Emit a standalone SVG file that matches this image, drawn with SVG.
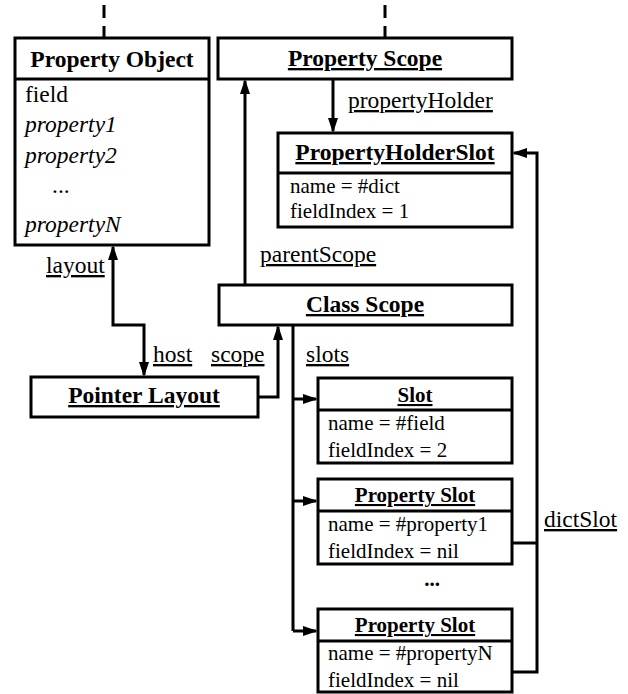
<svg xmlns="http://www.w3.org/2000/svg" width="628" height="694" viewBox="0 0 628 694">
<defs>
<style>
.box{fill:#fff;stroke:#000;stroke-width:3}
.div{stroke:#000;stroke-width:3}
.t{font-family:"Liberation Serif","Times New Roman",serif;font-size:23.5px;fill:#000}
.s{font-family:"Liberation Serif","Times New Roman",serif;font-size:21px;fill:#000}
.b{font-weight:bold}
.i{font-style:italic}
.u{text-decoration:underline}
.c{text-anchor:middle}
.ln{fill:none;stroke:#000;stroke-width:3}
.dash{fill:none;stroke:#000;stroke-width:3;stroke-dasharray:13 8}
</style>
<marker id="ah" markerUnits="userSpaceOnUse" markerWidth="16" markerHeight="11" refX="13" refY="5" orient="auto-start-reverse" viewBox="0 0 16 10">
<path d="M0,0 L15,5 L0,10 z" fill="#000"/>
</marker>
</defs>
<rect width="628" height="694" fill="#fff"/>
<g id="connectors">
<path class="dash" d="M104,5 V38"/>
<path class="dash" d="M385,5 V38"/>
<path class="ln" d="M333,79 V131" marker-end="url(#ah)"/>
<path class="ln" d="M245,285 V81" marker-end="url(#ah)"/>
<path class="ln" d="M113,247 V325 H144 V375" marker-start="url(#ah)" marker-end="url(#ah)"/>
<path class="ln" d="M258,397 H278 V327" marker-end="url(#ah)"/>
<path class="ln" d="M293,325 V631"/>
<path class="ln" d="M293,399 H316" marker-end="url(#ah)"/>
<path class="ln" d="M293,501 H316" marker-end="url(#ah)"/>
<path class="ln" d="M293,631 H316" marker-end="url(#ah)"/>
<path class="ln" d="M512,672 H537 V153 H514" marker-end="url(#ah)"/>
<path class="ln" d="M512,543 H537"/>
<text class="t u" x="348" y="108">propertyHolder</text>
<text class="t u" x="260" y="262">parentScope</text>
<text class="t u" x="46" y="273">layout</text>
<text class="t u" x="153" y="362">host</text>
<text class="t u" x="211" y="362">scope</text>
<text class="t u" x="306" y="362">slots</text>
<text class="t u" x="544" y="527">dictSlot</text>
</g>
<g id="property-object">
<rect class="box" x="15" y="38" width="194" height="207"/>
<line class="div" x1="15" y1="79" x2="209" y2="79"/>
<text class="t b c" x="112" y="67">Property Object</text>
<text class="t" x="25" y="102">field</text>
<text class="t i" x="25" y="132">property1</text>
<text class="t i" x="25" y="163">property2</text>
<text class="t" x="52" y="193">...</text>
<text class="t i" x="25" y="232">propertyN</text>
</g>
<g id="property-scope">
<rect class="box" x="218" y="38" width="294" height="41"/>
<text class="t b c u" x="365" y="66">Property Scope</text>
</g>
<g id="property-holder-slot">
<rect class="box" x="278" y="133" width="234" height="94"/>
<line class="div" x1="278" y1="173" x2="512" y2="173"/>
<text class="t b c u" x="395" y="160">PropertyHolderSlot</text>
<text class="s" x="290" y="193">name = #dict</text>
<text class="s" x="290" y="218">fieldIndex = 1</text>
</g>
<g id="class-scope">
<rect class="box" x="219" y="285" width="293" height="40"/>
<text class="t b c u" x="365" y="312">Class Scope</text>
</g>
<g id="pointer-layout">
<rect class="box" x="31" y="377" width="227" height="40"/>
<text class="t b c u" x="144" y="403">Pointer Layout</text>
</g>
<g id="slot">
<rect class="box" x="318" y="378" width="194" height="85"/>
<line class="div" x1="318" y1="410" x2="512" y2="410"/>
<text class="s b c u" x="415" y="402">Slot</text>
<text class="s" x="328" y="430">name = #field</text>
<text class="s" x="328" y="457">fieldIndex = 2</text>
</g>
<g id="property-slot-1">
<rect class="box" x="318" y="479" width="194" height="85"/>
<line class="div" x1="318" y1="511" x2="512" y2="511"/>
<text class="s b c u" x="415" y="502">Property Slot</text>
<text class="s" x="328" y="531">name = #property1</text>
<text class="s" x="328" y="558">fieldIndex = nil</text>
</g>
<g id="ellipsis">
<text class="s b c" x="432" y="586">...</text>
</g>
<g id="property-slot-n">
<rect class="box" x="318" y="609" width="194" height="83"/>
<line class="div" x1="318" y1="641" x2="512" y2="641"/>
<text class="s b c u" x="415" y="632">Property Slot</text>
<text class="s" x="328" y="660">name = #propertyN</text>
<text class="s" x="328" y="687">fieldIndex = nil</text>
</g>
</svg>
